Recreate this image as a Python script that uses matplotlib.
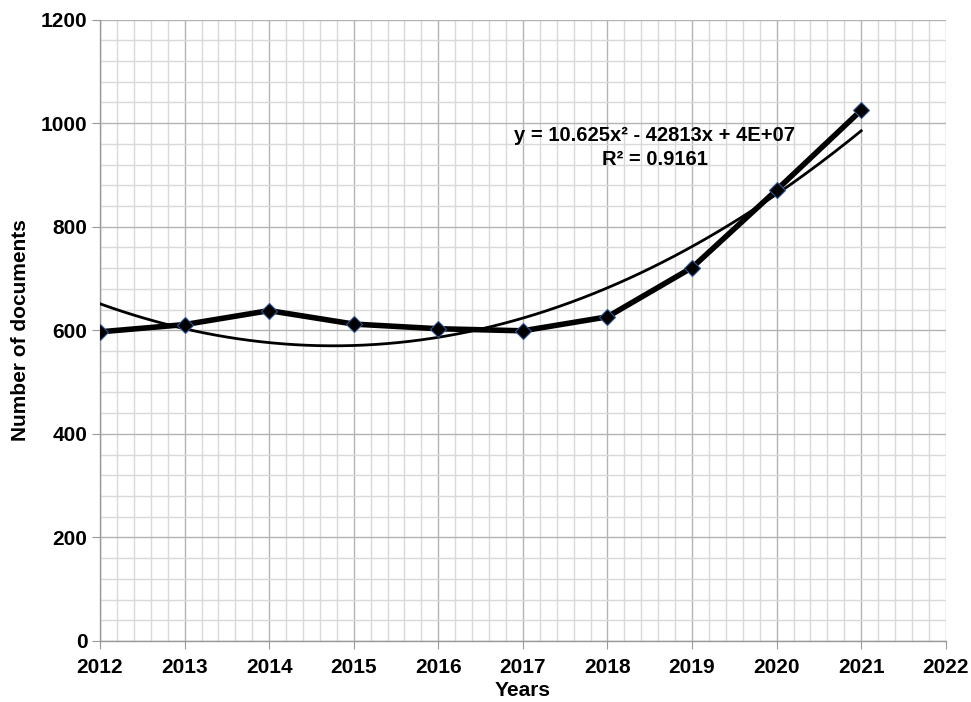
import numpy as np
import matplotlib.pyplot as plt
from matplotlib.ticker import MultipleLocator, FuncFormatter

plt.rcParams['font.family'] = ['Liberation Sans', 'DejaVu Sans']
plt.rcParams['font.weight'] = 'bold'

years = [2012, 2013, 2014, 2015, 2016, 2017, 2018, 2019, 2020, 2021]
docs = [597, 611, 638, 612, 603, 599, 626, 721, 871, 1025]
eq_text = "y = 10.625x² - 42813x + 4E+07\nR² = 0.9161"

# quadratic trend (centred x to keep polyfit well conditioned)
x = np.array(years, dtype=float)
y = np.array(docs, dtype=float)
x0 = x.mean()
coef = np.polyfit(x - x0, y, 2)
xt = np.linspace(x.min(), x.max(), 200)
yt = np.polyval(coef, xt - x0)

fig = plt.figure(figsize=(9.71, 7.02), dpi=100)
ax = fig.add_axes([0.103, 0.087, 0.871, 0.885])

ax.plot(xt, yt, color='black', lw=2.0, zorder=3)
ax.plot(x, y, color='black', lw=4, marker='D', markersize=8,
        markerfacecolor='black', markeredgecolor='#2f5597', markeredgewidth=0.8, zorder=4)

ax.set_xlim(2012, 2022)
ax.set_ylim(0, 1200)
ax.xaxis.set_major_locator(MultipleLocator(1))
ax.xaxis.set_minor_locator(MultipleLocator(0.2))
ax.yaxis.set_major_locator(MultipleLocator(200))
ax.yaxis.set_minor_locator(MultipleLocator(40))
ax.xaxis.set_major_formatter(FuncFormatter(lambda v, p: '%d' % round(v)))
ax.grid(which='minor', color='#d9d9d9', lw=1.0, zorder=0)
ax.grid(which='major', color='#b3b3b3', lw=1.0, zorder=1)
ax.set_axisbelow(True)

for s in ['top', 'right']:
    ax.spines[s].set_visible(False)
for s in ['left', 'bottom']:
    ax.spines[s].set_color('#999999')
    ax.spines[s].set_linewidth(1.0)

ax.tick_params(which='major', length=6, color='#999999', labelsize=15, pad=3)
ax.tick_params(which='minor', length=0)
ax.tick_params(axis='x', pad=6)
ax.set_xlabel('Years', fontsize=15, fontweight='bold', labelpad=3)
ax.set_ylabel('Number of documents', fontsize=15, fontweight='bold', labelpad=8)

ax.text(2018.56, 953, eq_text, ha='center', va='center', fontsize=14.5,
        fontweight='bold', linespacing=1.35, zorder=5)

fig.savefig('out.png', dpi=100)
